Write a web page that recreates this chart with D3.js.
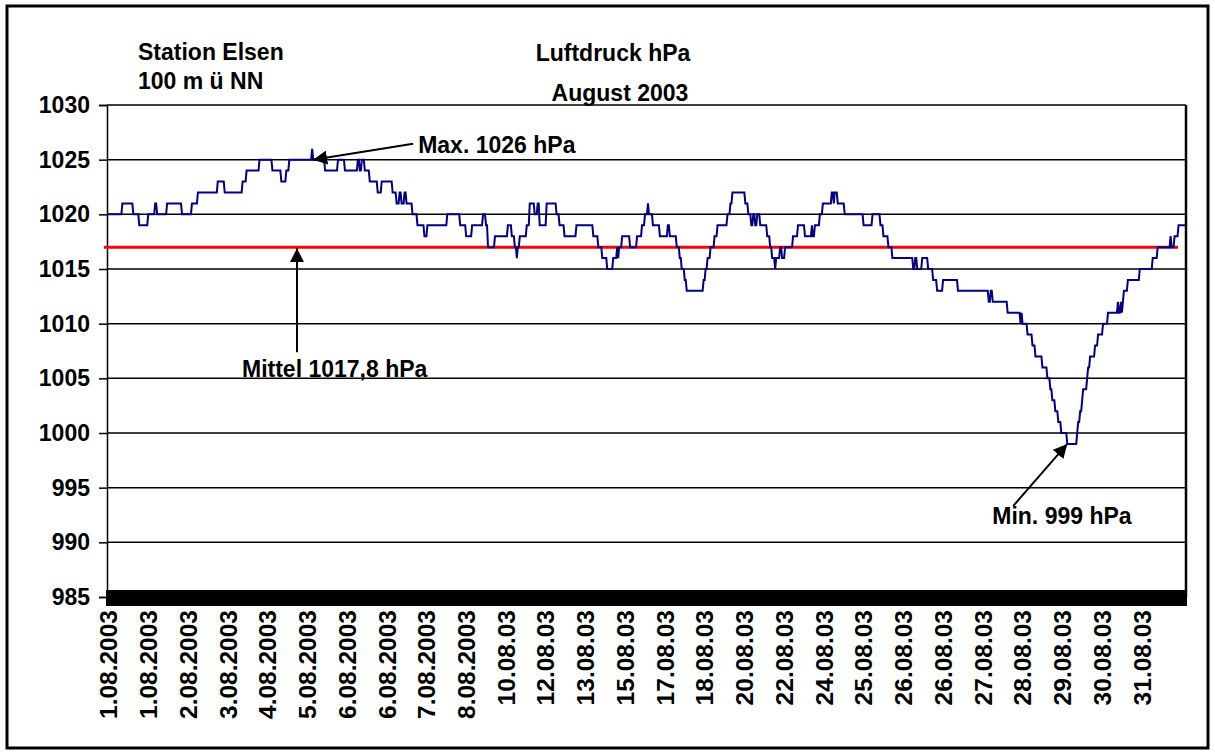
<!DOCTYPE html>
<meta charset="utf-8">
<head>
<script src="https://d3js.org/d3.v7.min.js"></script>
<style>
  body { margin: 0; background: #fff; }
  text { font-family: "Liberation Sans", Arial, sans-serif; font-weight: bold; fill: #000; }
</style>
</head>
<body>
<div id="chart"></div>
<script>

// pressure levels (hPa)
var levels = [
  1020,1021,1020,1019,1020,1021,1020,1021,1020,1021,
  1022,1023,1022,1023,1024,1025,1024,1023,1024,1025,
  1026,1025,1024,1025,1024,1025,1024,1025,1024,1023,
  1022,1023,1022,1021,1022,1021,1022,1021,1020,1019,
  1018,1019,1020,1019,1018,1019,1020,1019,1017,1018,
  1019,1018,1017,1016,1017,1018,1019,1021,1020,1021,
  1019,1021,1020,1019,1018,1019,1018,1017,1016,1015,
  1016,1017,1016,1017,1018,1017,1018,1019,1020,1021,
  1020,1019,1018,1019,1018,1017,1016,1015,1014,1013,
  1014,1015,1016,1017,1018,1019,1020,1021,1022,1021,
  1020,1019,1020,1019,1020,1019,1018,1017,1016,1015,
  1016,1017,1016,1017,1018,1019,1018,1019,1018,1019,
  1020,1021,1022,1021,1022,1021,1020,1019,1020,1019,
  1018,1017,1016,1015,1016,1015,1016,1015,1014,1013,
  1014,1013,1012,1013,1012,1011,1010,1011,1010,1009,
  1008,1007,1006,1005,1004,1003,1002,1001,1000,999,
  1000,1001,1002,1003,1004,1005,1006,1007,1008,1009,
  1010,1011,1012,1011,1012,1011,1012,1013,1014,1015,
  1016,1017,1018,1017,1018,1019
];

// how many readings each level lasted
var runLengths = [
  15,11,6,9,7,2,10,15,10,6,
  20,7,18,4,13,13,9,5,3,23,
  1,12,13,7,13,2,2,3,5,8,
  4,11,4,3,2,3,2,6,5,7,
  3,20,13,6,6,11,3,2,7,13,
  4,3,2,1,2,7,3,5,3,2,
  7,10,3,5,12,17,5,4,5,6,
  4,1,1,3,8,7,5,3,3,1,
  4,7,8,2,7,3,2,3,2,17,
  2,2,3,4,3,10,3,2,13,3,
  3,2,2,2,3,7,3,2,3,1,
  4,2,3,8,5,7,7,1,2,5,
  3,9,2,1,3,7,19,9,8,3,
  5,4,21,2,2,5,6,5,4,6,
  15,31,2,2,15,13,1,1,5,5,
  3,7,5,3,2,3,3,3,6,10,
  1,2,2,1,4,1,2,5,3,5,
  5,10,1,2,1,1,1,4,12,13,
  5,13,1,3,4,8
];

var dateLabels = [
  "1.08.2003","1.08.2003","2.08.2003","3.08.2003","4.08.2003","5.08.2003",
  "6.08.2003","6.08.2003","7.08.2003","8.08.2003","10.08.03","12.08.03",
  "13.08.03","15.08.03","17.08.03","18.08.03","20.08.03","22.08.03",
  "24.08.03","25.08.03","26.08.03","26.08.03","27.08.03","28.08.03",
  "29.08.03","30.08.03","31.08.03"
];
var labelEvery = 40;

var yTicks = [985, 990, 995, 1000, 1005, 1010, 1015, 1020, 1025, 1030];
var meanLine = 1017;

// expand runs into readings
var readings = [];
levels.forEach(function(v, i) {
  for (var k = 0; k < runLengths[i]; k++) readings.push(v);
});
var N = readings.length;

var width = 1215, height = 756;
var plotLeft = 107, plotRight = 1186, plotTop = 105, plotBottom = 597;

var svg = d3.select("#chart").append("svg")
  .attr("width", width)
  .attr("height", height);

// outer frame
svg.append("rect")
  .attr("x", 7).attr("y", 6)
  .attr("width", 1201).attr("height", 742)
  .attr("fill", "none").attr("stroke", "#000").attr("stroke-width", 3);

var x = d3.scaleLinear().domain([0, N]).range([plotLeft, plotRight]);
var y = d3.scaleLinear().domain([985, 1030]).range([plotBottom, plotTop]);

// gridlines
svg.append("g")
  .selectAll("line")
  .data(yTicks)
  .enter().append("line")
  .attr("x1", plotLeft).attr("x2", plotRight)
  .attr("y1", function(d) { return y(d); })
  .attr("y2", function(d) { return y(d); })
  .attr("stroke", "#000").attr("stroke-width", 1.5);

// y axis
var yAxis = d3.axisLeft(y).tickValues(yTicks).tickFormat(d3.format("d"))
  .tickSize(8).tickPadding(9);
var gy = svg.append("g").attr("transform", "translate(" + plotLeft + ",0)").call(yAxis);
gy.select(".domain").attr("stroke", "#000").attr("stroke-width", 1.5);
gy.selectAll(".tick line").attr("stroke", "#000").attr("stroke-width", 1.5);
gy.selectAll(".tick text")
  .style("font-size", "23px")
  .style("font-family", "'Liberation Sans', Arial, sans-serif")
  .style("font-weight", "bold")
  .attr("fill", "#000");

// right border
svg.append("line")
  .attr("x1", plotRight).attr("x2", plotRight)
  .attr("y1", plotTop).attr("y2", plotBottom)
  .attr("stroke", "#000").attr("stroke-width", 2.5);

// category ticks, one per reading -> solid band
svg.append("g")
  .attr("shape-rendering", "crispEdges")
  .selectAll("line")
  .data(d3.range(N + 1))
  .enter().append("line")
  .attr("x1", function(d) { return x(d); })
  .attr("x2", function(d) { return x(d); })
  .attr("y1", plotBottom - 7).attr("y2", plotBottom + 9)
  .attr("stroke", "#000").attr("stroke-width", 1.6);

// date labels
svg.append("g")
  .selectAll("text")
  .data(dateLabels)
  .enter().append("text")
  .attr("transform", function(d, i) {
    return "translate(" + (x(i * labelEvery + 0.5) + 1) + "," + (plotBottom + 13) + ") rotate(-90)";
  })
  .attr("dy", "0.36em")
  .attr("text-anchor", "end")
  .style("font-size", "24.5px")
  .text(function(d) { return d; });

// mean line (red)
svg.append("line")
  .attr("x1", plotLeft - 3).attr("x2", x(N) - 8)
  .attr("y1", y(meanLine)).attr("y2", y(meanLine))
  .attr("stroke", "#ff0000").attr("stroke-width", 3);

// pressure trace
var line = d3.line()
  .x(function(d, i) { return x(i + 0.5); })
  .y(function(d) { return y(d); });

svg.append("path")
  .datum(readings)
  .attr("d", line)
  .attr("fill", "none")
  .attr("stroke", "#000080")
  .attr("stroke-width", 2);

// titles
var fs = "23px";
svg.append("text").attr("x", 138).attr("y", 60).style("font-size", fs).text("Station Elsen");
svg.append("text").attr("x", 138).attr("y", 89).style("font-size", fs).text("100 m ü NN");
svg.append("text").attr("x", 613).attr("y", 61).attr("text-anchor", "middle").style("font-size", fs).text("Luftdruck hPa");
svg.append("text").attr("x", 620).attr("y", 101).attr("text-anchor", "middle").style("font-size", fs).text("August 2003");

// arrow marker
svg.append("defs").append("marker")
  .attr("id", "arrow")
  .attr("viewBox", "0 0 10 10")
  .attr("refX", 10).attr("refY", 5)
  .attr("markerWidth", 7).attr("markerHeight", 7)
  .attr("markerUnits", "strokeWidth")
  .attr("orient", "auto")
  .append("path")
  .attr("d", "M0,0 L10,5 L0,10 z")
  .attr("fill", "#000");

function annotate(x1, y1, x2, y2) {
  svg.append("line")
    .attr("x1", x1).attr("y1", y1)
    .attr("x2", x2).attr("y2", y2)
    .attr("stroke", "#000").attr("stroke-width", 2)
    .attr("marker-end", "url(#arrow)");
}

var maxVal = d3.max(readings), minVal = d3.min(readings);
var maxIdx = readings.indexOf(maxVal), minIdx = readings.indexOf(minVal);

// max
var mxX = x(maxIdx + 0.5) + 1, mxY = y(maxVal) + 11;
annotate(mxX + 100, mxY - 16, mxX, mxY);
svg.append("text").attr("x", mxX + 105).attr("y", mxY - 7).style("font-size", fs).text("Max. 1026 hPa");

// mean
var meX = 297, meY = y(meanLine) + 1;
annotate(meX, meY + 104, meX, meY);
svg.append("text").attr("x", meX - 55).attr("y", meY + 129).style("font-size", fs).text("Mittel 1017,8 hPa");

// min
var mnX = x(minIdx + 0.5), mnY = y(minVal);
annotate(mnX - 54, mnY + 62, mnX, mnY);
svg.append("text").attr("x", mnX - 75).attr("y", mnY + 80).style("font-size", fs).text("Min. 999 hPa");

</script>
</body>
